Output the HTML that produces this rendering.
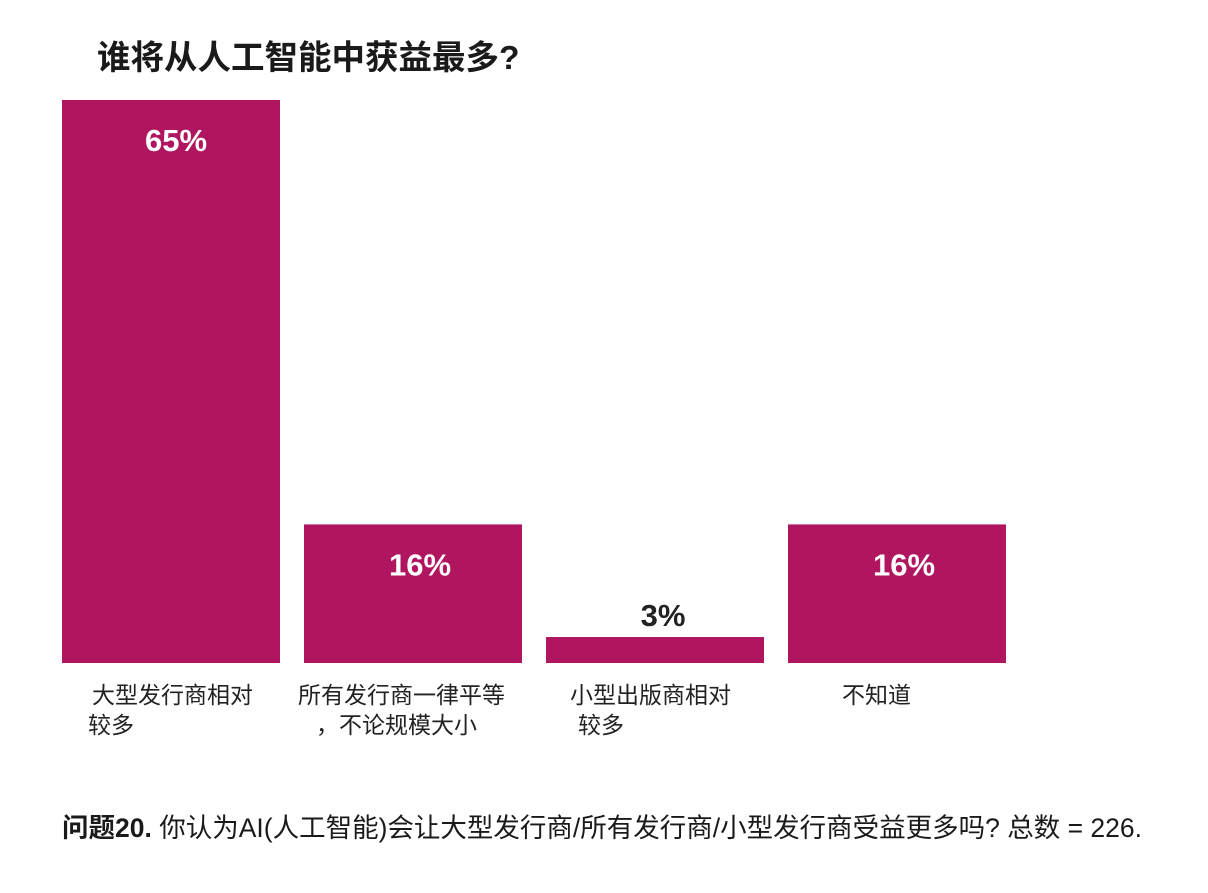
<!DOCTYPE html>
<html><head><meta charset="utf-8"><style>
body{margin:0;width:1208px;height:888px;background:#fff;overflow:hidden;font-family:"Liberation Sans","Noto Sans CJK SC",sans-serif;}
svg text{font-family:"Liberation Sans","Noto Sans CJK SC",sans-serif;}
</style></head><body>
<svg id="chart" width="1208" height="888">
<text x="97" y="69" font-size="33.5" font-weight="bold" fill="#1a1a1a">谁将从人工智能中获益最多?</text>
<g id="bars"></g>
<text x="62" y="837" font-size="26.5" fill="#1a1a1a"><tspan font-weight="bold">问题20.</tspan> 你认为AI(人工智能)会让大型发行商/所有发行商/小型发行商受益更多吗? 总数 = 226.</text>
</svg>
<script>
const categories=[["大型发行商相对","较多"],["所有发行商一律平等","，不论规模大小"],["小型出版商相对","较多"],["不知道"]];
const values=[65,16,3,16];
const labels=["65%","16%","3%","16%"];
const ns="http://www.w3.org/2000/svg";
const g=document.getElementById("bars");
const base=663,scale=563/65,x0=62,step=242,bw=218;
function y(v){return base-v*scale;}
function x(i){return x0+i*step;}
values.forEach((v,i)=>{
 const r=document.createElementNS(ns,"rect");
 r.setAttribute("x",x(i));r.setAttribute("y",y(v));r.setAttribute("width",bw);r.setAttribute("height",base-y(v));r.setAttribute("fill","#b01660");
 
 
 g.appendChild(r);
 const t=document.createElementNS(ns,"text");
 const inside=(base-y(v))>60;
 t.setAttribute("x",x(i)+bw/2+(i==0?5:(i==2?8:7)));
 t.setAttribute("y",inside?y(v)+51:y(v)-11);
 t.setAttribute("text-anchor","middle");t.setAttribute("font-size","31");t.setAttribute("font-weight","bold");
 t.setAttribute("fill",inside?"#fff":"#222");
 t.textContent=labels[i];
 
 
 g.appendChild(t);
 categories[i].forEach((line,j)=>{
  const c=document.createElementNS(ns,"text");
  const lx=[92,298,570,842][i]+(j==1?[-4,18,8,0][i]:0);
  c.setAttribute("x",lx);c.setAttribute("y",703+j*30);c.setAttribute("font-size","23");c.setAttribute("fill","#222");
  c.textContent=line;
  
  
  g.appendChild(c);
 });
});
</script>
</body></html>
